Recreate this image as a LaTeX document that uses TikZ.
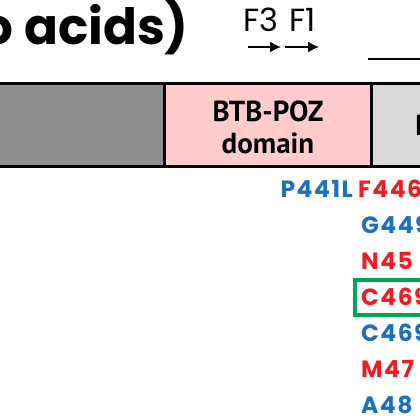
\documentclass[tikz,border=0pt]{standalone}
\usepackage{fontspec}
\setmainfont{Poppins}
\newfontfamily\domainfont{PT Sans}
\newfontfamily\mutfont[LetterSpace=6]{Poppins}
\usepackage{tikz}
\usetikzlibrary{arrows.meta, positioning}

\definecolor{ntrgray}{HTML}{8F8F8F}
\definecolor{btbpink}{HTML}{FFCCCC}
\definecolor{ivrgray}{HTML}{D9D9D9}
\definecolor{mutblue}{HTML}{1B70C0}
\definecolor{mutred}{HTML}{F01C24}
\definecolor{hitgreen}{HTML}{00A651}

\begin{document}
\begin{tikzpicture}[
    x=1pt, y=-1pt,
    domainbox/.style={draw=black, line width=3pt, rectangle, minimum height=83pt, inner sep=0pt, outer sep=0pt},
    domaintext/.style={align=center, inner sep=0pt, font=\domainfont\bfseries\fontsize{29}{32}\selectfont},
    mutation/.style={font=\mutfont\bfseries\fontsize{23.5}{23.5}\selectfont, inner sep=0pt},
    primer/.style={-{Latex[length=11pt, width=11pt]}, line width=1.8pt},
    hitbox/.style={draw=hitgreen, line width=4pt}
]
\useasboundingbox (0,0) rectangle (420,420);
\clip (0,0) rectangle (420,420);

% Title
\node[anchor=base east, font=\bfseries\fontsize{50}{50}\selectfont, inner sep=0pt] (title) at (189,45) {o acids)};

% Primers
\node[font=\fontsize{32}{32}\selectfont, inner sep=0pt] (f3) at (261,20) {F3};
\node[font=\fontsize{32}{32}\selectfont, inner sep=0pt] (f1) at (303,20) {F1};
\coordinate (f3tail) at (248,47);
\coordinate (f3tip) at (281,47);
\coordinate (f1tail) at (285,47);
\coordinate (f1tip) at (319,47);
\draw[primer] (f3tail) -- (f3tip);
\draw[primer] (f1tail) -- (f1tip);

% Span line
\coordinate (spanL) at (368,59);
\coordinate (spanR) at (430,59);
\draw[line width=2pt] (spanL) -- (spanR);

% Domains
\node[domainbox, fill=ntrgray, minimum width=264.5pt] (ntr) at (32.25,125) {};
\node[domainbox, fill=btbpink, minimum width=207pt, right=0pt of ntr] (btb) {};
\node[domainbox, fill=ivrgray, minimum width=130pt, right=0pt of btb] (ivr) {};
\node[domaintext] (btblabel) at ([yshift=-2pt]btb.center) {BTB-POZ\\domain};
\node[domaintext] (ivrlabel) at (ivr.center) {IVR};

% Mutations
\node[mutation, text=mutblue, anchor=east] (p441l) at (353,189) {P441L};
\node[mutation, text=mutred, anchor=west] (f446) at (358,189) {F446};
\foreach \name/\txt/\col [count=\i] in {g449/G449/mutblue, n45/N45/mutred, c469r/C469/mutred, c469b/C469/mutblue, m47/M47/mutred, a48/A48/mutblue}
  \node[mutation, text=\col, anchor=west] (\name) at (361,189+36*\i) {\txt};

% Highlight
\coordinate (hitL) at (355,279.5);
\coordinate (hitR) at (440,315);
\draw[hitbox] (hitL) rectangle (hitR);

\end{tikzpicture}
\end{document}
